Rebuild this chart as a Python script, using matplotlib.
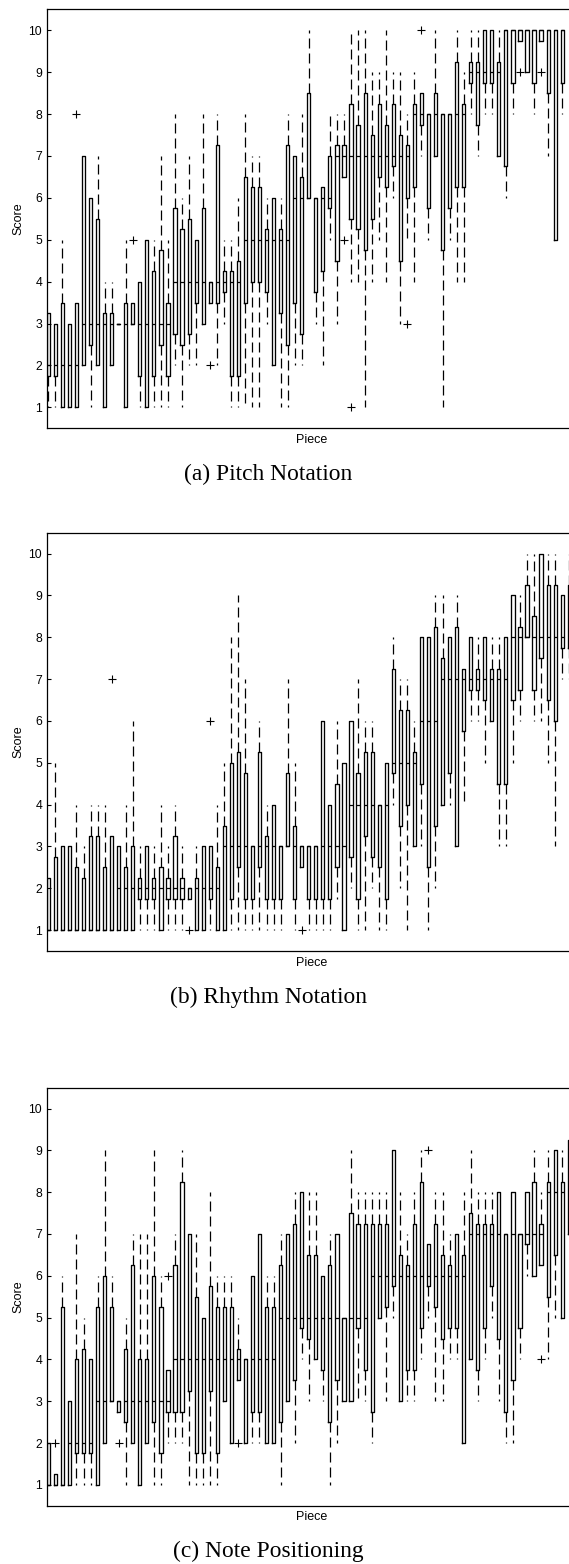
import matplotlib
matplotlib.use("Agg")
import matplotlib.pyplot as plt

# Box summaries (one entry per piece).
# lo/hi = whisker ends, q1/med/q3 = box, out = outliers (1-based piece number).

pitch_lo = [1, 1, 1, 1, 1, 2, 1, 2, 1, 2, 3, 1, 3, 1, 1, 1, 1, 1, 2, 1,
            2, 2, 3, 3.5, 2, 3, 1, 1, 1, 1, 1, 3, 2, 1, 1, 2, 2, 6, 3, 2,
            5, 3, 6.5, 4, 4, 1, 4, 5, 4, 6, 3, 5, 4, 7, 5, 7, 1, 5, 4, 4,
            8, 7, 8, 8, 7, 6, 8, 9.75, 9, 8, 9.75, 7, 5, 8]
pitch_q1 = [1.75, 1.75, 1, 1, 1, 2, 2.5, 2, 1, 2, 3, 1, 3, 1.75, 1, 1.75, 2.5, 1.75, 2.75, 2.5,
            2.75, 3.5, 3, 3.5, 3.5, 3.75, 1.75, 1.75, 3.5, 4, 4, 3.75, 2, 3.25, 2.5, 3.5, 2.75, 6, 3.75, 4.25,
            5.75, 4.5, 6.5, 5.5, 5.25, 4.75, 5.5, 6.5, 6.25, 6.75, 4.5, 6, 6.25, 7.75, 5.75, 7, 4.75, 5.75, 6.25, 6.25,
            8.75, 7.75, 8.75, 8.75, 7, 6.75, 8.75, 9.75, 9, 8.75, 9.75, 8.5, 5, 8.75]
pitch_med = [2, 2, 2, 2, 2, 3, 3, 3, 3, 3, 3, 3, 3, 3, 3, 3, 3, 3, 4, 4,
             4, 4, 4, 4, 4, 4, 4, 4, 5, 5, 5, 5, 5, 5, 5, 6, 6, 6, 6, 6,
             6, 7, 7, 7, 7, 7, 7, 7, 7, 7, 7, 7, 8, 8, 8, 8, 8, 8, 8, 8,
             9, 9, 9, 9, 9, 10, 10, 10, 10, 10, 10, 10, 10, 10]
pitch_q3 = [3.25, 3, 3.5, 3, 3.5, 7, 6, 5.5, 3.25, 3.25, 3, 3.5, 3.5, 4, 5, 4.25, 4.75, 3.5, 5.75, 5.25,
            5.5, 5, 5.75, 4, 7.25, 4.25, 4.25, 4.5, 6.5, 6.25, 6.25, 5.25, 6, 5.25, 7.25, 7, 6.5, 8.5, 6, 6.25,
            7, 7.25, 7.25, 8.25, 7.75, 8.5, 7.5, 8.25, 7.75, 8.25, 7.5, 7.25, 8.25, 8.5, 8, 8.5, 8, 8, 9.25, 8.25,
            9.25, 9.25, 10, 10, 9.25, 10, 10, 10, 10, 10, 10, 10, 10, 10]
pitch_hi = [3.25, 3, 5, 3, 3.5, 7, 6, 7, 4, 4, 3, 5, 3.5, 4, 5, 5, 7, 5, 8, 6,
            7, 5, 8, 4, 8, 5, 5, 6, 8, 7, 7, 6, 6, 6, 8, 7, 8, 10, 6, 6.25,
            8, 8, 8, 10, 10, 10, 9, 9, 10, 9, 9, 8, 9, 8.5, 8, 10, 8, 8, 10, 9,
            10, 10, 10, 10, 10, 10, 10, 10, 10, 10, 10, 10, 10, 10]
pitch_out = {5: [8], 13: [5], 24: [2], 43: [5], 44: [1], 52: [3], 54: [10], 68: [9], 71: [9]}

rhythm_lo = [1, 1, 1, 1, 1, 1, 1, 1, 1, 1, 1, 1, 1, 1, 1, 1, 1, 1, 1, 1,
             1.75, 1, 1, 1, 1, 1, 1, 1, 1, 1, 1, 1, 1, 1, 3, 1, 2.5, 1, 1, 1,
             1, 1.75, 1, 2, 1, 1, 2, 1, 1, 4, 2, 1, 3, 3, 1, 2, 4, 4, 3, 4,
             6, 6, 5, 6, 3, 3, 5, 6, 8, 6, 6, 5, 3, 7, 7]
rhythm_q1 = [1, 1, 1, 1, 1, 1, 1, 1, 1, 1, 1, 1, 1, 1.75, 1.75, 1.75, 1, 1.75, 1.75, 1.75,
             1.75, 1, 1, 1.75, 1, 1, 1.75, 2.5, 1.75, 1.75, 2.5, 1.75, 1.75, 1.75, 3, 1.75, 2.5, 1.75, 1.75, 1.75,
             1.75, 2.5, 1, 2.75, 1.75, 3.25, 2.75, 2.5, 1.75, 4.75, 3.5, 4, 3, 4.5, 2.5, 3.5, 4, 4.75, 3, 5.75,
             6.75, 6.75, 6.5, 6, 4.5, 4.5, 6.5, 6.75, 8, 6.75, 7.5, 6.5, 6, 7.75, 7.75]
rhythm_med = [1, 1, 1, 1, 1, 1, 1, 1, 1, 1, 2, 2, 2, 2, 2, 2, 2, 2, 2, 2,
              2, 2, 2, 2, 2, 3, 3, 3, 3, 3, 3, 3, 3, 3, 3, 3, 3, 3, 3, 3,
              3, 3, 3, 4, 4, 4, 4, 4, 4, 5, 5, 5, 5, 6, 6, 6, 7, 7, 7, 7,
              7, 7, 7, 7, 7, 7, 8, 8, 8, 8, 8, 8, 8, 8, 8]
rhythm_q3 = [2.25, 2.75, 3, 3, 2.5, 2.25, 3.25, 3.25, 2.5, 3.25, 3, 2.5, 3, 2.25, 3, 2.25, 2.5, 2.25, 3.25, 2.25,
             2, 2.25, 3, 3, 2.5, 3.5, 5, 5.25, 4.75, 3, 5.25, 3.25, 4, 3, 4.75, 3.5, 3, 3, 3, 6,
             4, 4.5, 5, 6, 4.75, 5.25, 5.25, 4, 5, 7.25, 6.25, 6.25, 5.25, 8, 8, 8.25, 7.5, 8, 8.25, 7.25,
             8, 7.25, 8, 7.25, 7.25, 8, 9, 8.25, 9.25, 8.5, 10, 9.25, 9.25, 9, 9.25]
rhythm_hi = [2.25, 5, 3, 3, 4, 3, 4, 4, 4, 3.25, 3, 4, 6, 3, 3, 3, 4, 3, 4, 3,
             2, 3, 3, 3, 4, 5, 8, 9, 7, 3, 6, 4, 4, 3, 7, 5, 3, 3, 3, 6,
             4, 6, 5, 6, 7, 6, 6, 4, 5, 8, 7, 7, 6, 8, 8, 9, 9, 8, 9, 7.25,
             8, 8, 8, 8, 8, 8, 9, 9, 10, 10, 10, 10, 10, 9, 10]
rhythm_out = {10: [7], 21: [1], 24: [6], 37: [1]}

pos_lo = [1, 1, 1, 1, 1, 1, 1, 1, 2, 3, 2.75, 1, 2, 1, 2, 1, 1, 2, 2, 2,
          1, 1, 1, 1, 1, 3, 2, 3.5, 2, 2, 2, 2, 2, 1, 3, 2, 4, 3, 4, 3,
          1, 2, 3, 3, 3, 3, 2, 5, 3, 5, 3, 3, 3, 4, 5, 3, 3, 4, 4, 2,
          4, 3, 4, 5, 3, 2, 2, 4, 6, 6, 6.25, 4, 5, 5, 7]
pos_q1 = [1, 1, 1, 1, 1.75, 1.75, 1.75, 1, 2, 3, 2.75, 2.5, 2, 1, 2, 2.5, 1.75, 2.75, 2.75, 2.75,
          3.25, 1.75, 1.75, 3.25, 1.75, 3, 2, 3.5, 2, 2.75, 2.75, 2, 2, 2.5, 3, 3.5, 4.75, 4.5, 4, 3.75,
          2.5, 3.5, 3, 3, 4.75, 3.75, 2.75, 5, 5.25, 5.75, 3, 3.75, 3.75, 4.75, 5.75, 5.25, 4.5, 4.75, 4.75, 2,
          4, 3.75, 4.75, 5.75, 4.5, 2.75, 3.5, 4.75, 6.75, 6, 6.25, 5.5, 6.5, 5, 7]
pos_med = [1, 1, 1, 2, 2, 2, 2, 3, 3, 3, 3, 3, 3, 3, 3, 3, 3, 3, 4, 4,
           4, 4, 4, 4, 4, 4, 4, 4, 4, 4, 4, 4, 4, 5, 5, 5, 5, 5, 5, 5,
           5, 5, 5, 5, 5, 5, 6, 6, 6, 6, 6, 6, 6, 6, 6, 6, 6, 6, 6, 6,
           7, 7, 7, 7, 7, 7, 7, 7, 7, 7, 7, 8, 8, 8, 8]
pos_q3 = [2, 1.25, 5.25, 3, 4, 4.25, 4, 5.25, 6, 5.25, 3, 4.25, 6.25, 4, 4, 6, 5.25, 3.75, 6.25, 8.25,
          7, 5.5, 5, 5.75, 5.25, 5.25, 5.25, 4.25, 4, 6, 7, 5.25, 5.25, 6.25, 7, 7.25, 8, 6.5, 6.5, 6,
          6.25, 7, 5, 7.5, 7.25, 7.25, 7.25, 7.25, 7.25, 9, 6.5, 6.25, 7.25, 8.25, 6.75, 7.25, 6.5, 6.25, 7, 6.5,
          7.5, 7.25, 7.25, 7.25, 8, 7, 8, 7, 8, 8.25, 7.25, 8.25, 9, 8.25, 9.25]
pos_hi = [2, 1.25, 6, 3, 7, 5, 4, 6, 9, 6, 3, 5, 7, 7, 7, 9, 6, 3.75, 7, 9,
          7, 7, 5, 8, 6, 6, 6, 5, 4, 6, 7, 6, 6, 7, 7, 8, 8, 8, 8, 6,
          7, 7, 5, 9, 8, 8, 8, 8, 8, 9, 8, 7, 8, 9, 6.75, 8, 8, 7, 7, 8,
          9, 8, 8, 8, 8, 7, 8, 7, 8, 9, 8, 9, 9, 9, 9.25]
pos_out = {2: [2], 11: [2], 18: [6], 28: [2], 55: [9], 71: [4]}

captions = ["(a) Pitch Notation", "(b) Rhythm Notation", "(c) Note Positioning"]

W, H = 569, 1564
# (top spine, bottom spine) of each panel in pixels
panel_px = [(9.3, 428.3), (532.7, 951.0), (1087.7, 1505.7)]


def draw_panel(ax, lo, q1, med, q3, hi, out):
    stats = []
    for i in range(len(med)):
        stats.append({"whislo": lo[i], "q1": q1[i], "med": med[i], "q3": q3[i],
                      "whishi": hi[i], "fliers": out.get(i + 1, [])})
    ax.bxp(stats, positions=range(1, len(med) + 1), widths=0.45,
           showcaps=False, patch_artist=False,
           boxprops=dict(color="black", linewidth=0.95),
           medianprops=dict(color="black", linewidth=0.9),
           whiskerprops=dict(color="black", linewidth=0.9, linestyle=(0, (8, 4))),
           flierprops=dict(marker="+", markeredgecolor="black", markersize=6,
                           markeredgewidth=0.8, linestyle="none"))
    ax.set_xlim(0.815, 75.96)
    ax.set_ylim(0.5, 10.5)
    ax.set_yticks(range(1, 11))
    ax.set_yticklabels([str(v) for v in range(1, 11)])
    ax.set_xticks([])
    ax.tick_params(axis="y", direction="in", length=3, width=0.8, pad=3.6,
                   labelsize=8.8)
    for s in ax.spines.values():
        s.set_linewidth(0.9)
    ax.spines["right"].set_visible(False)
    ax.set_xlabel("Piece", fontsize=9, labelpad=4)


def main():
    plt.rcParams["font.family"] = ["Liberation Sans", "DejaVu Sans"]
    fig = plt.figure(figsize=(W / 100, H / 100), dpi=100)

    data = [(pitch_lo, pitch_q1, pitch_med, pitch_q3, pitch_hi, pitch_out),
            (rhythm_lo, rhythm_q1, rhythm_med, rhythm_q3, rhythm_hi, rhythm_out),
            (pos_lo, pos_q1, pos_med, pos_q3, pos_hi, pos_out)]

    left = 47 / W
    width = 529 / W
    for k in range(3):
        top, bot = panel_px[k]
        ax = fig.add_axes([left, 1 - bot / H, width, (bot - top) / H])
        draw_panel(ax, *data[k])
        fig.text(18 / W, 1 - (top + bot) / 2 / H, "Score", rotation=90,
                 ha="center", va="center", fontsize=9)
        fig.text(268 / W, 1 - (bot + 46) / H, captions[k],
                 ha="center", va="center", fontsize=16.9,
                 family=["Liberation Serif", "DejaVu Serif"])

    fig.savefig("out.png", dpi=100)


if __name__ == "__main__":
    main()
